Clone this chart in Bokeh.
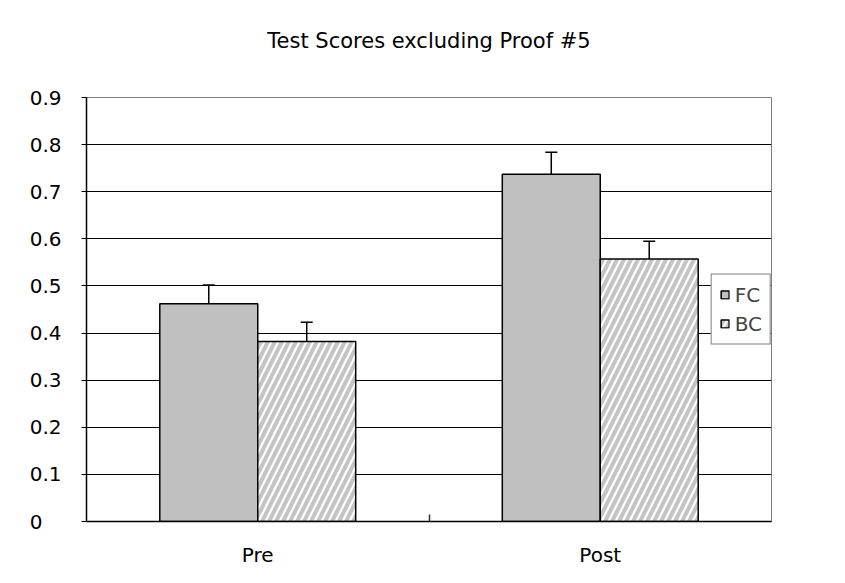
from bokeh.plotting import figure
from bokeh.models import (Range1d, FixedTicker, Whisker, ColumnDataSource, Legend,
                          LegendItem, TeeHead, Title)
from bokeh.transform import dodge
from bokeh.embed import file_html
from bokeh.resources import INLINE

# ---- data ----
categories = ["Pre", "Post"]
series_names = ["FC", "BC"]
fc_values = [0.462, 0.737]
fc_errors = [0.040, 0.047]
bc_values = [0.382, 0.557]
bc_errors = [0.041, 0.038]
y_ticks = [0.0, 0.1, 0.2, 0.3, 0.4, 0.5, 0.6, 0.7, 0.8, 0.9]
y_tick_labels = ["0", "0.1", "0.2", "0.3", "0.4", "0.5", "0.6", "0.7", "0.8", "0.9"]
title_text = "Test Scores excluding Proof #5"

FONT = "DejaVu Sans"
FS = "20px"
BAR_W = 0.286
OFF = BAR_W / 2

W, H = 845, 583
ML, MR, MT, MB = 86, 74, 97, 62
Y_MAX = 0.9

# category slots: each category occupies one unit on the x scale
centers = [i + 0.5 for i in range(len(categories))]
boundaries = list(range(1, len(categories)))
X_MAX = len(categories)

src = ColumnDataSource(dict(
    xc=centers,
    fc=fc_values,
    fc_up=[v + e for v, e in zip(fc_values, fc_errors)],
    bc=bc_values,
    bc_up=[v + e for v, e in zip(bc_values, bc_errors)],
))

p = figure(x_range=Range1d(0, X_MAX), y_range=Range1d(0, Y_MAX),
           width=W, height=H, output_backend="svg", toolbar_location=None,
           min_border_left=ML, min_border_right=MR, min_border_top=MT, min_border_bottom=MB,
           title=title_text)

# blank spacer between the plot area and the title
p.add_layout(Title(text=" ", standoff=17, text_font=FONT, text_font_size=FS,
                   text_color="white"), "above")

p.title.align = "center"
p.title.vertical_align = "top"
p.title.standoff = 0
p.title.text_font = FONT
p.title.text_font_size = "21px"
p.title.text_font_style = "normal"
p.title.text_color = "black"

p.outline_line_color = "#808080"
p.outline_line_width = 1
p.background_fill_color = "white"
p.border_fill_color = "white"

# grid
p.xgrid.visible = False
p.ygrid.ticker = FixedTicker(ticks=y_ticks)
p.ygrid.grid_line_color = "black"
p.ygrid.grid_line_width = 1

# bars
r_fc = p.vbar(x=dodge("xc", -OFF), top="fc", width=BAR_W, source=src,
              fill_color="#c0c0c0", line_color="black", line_width=1.5)
r_bc = p.vbar(x=dodge("xc", OFF), top="bc", width=BAR_W, source=src,
              fill_color="white", hatch_pattern="/", hatch_color="#c4c4c4",
              hatch_scale=14, hatch_weight=4, line_color="black", line_width=1.5)

for base_off, lo, hi in [(-OFF, "fc", "fc_up"), (OFF, "bc", "bc_up")]:
    w = Whisker(source=src, base=dodge("xc", base_off), lower=lo, upper=hi,
                dimension="height", line_color="black", line_width=1.5,
                upper_head=TeeHead(size=12, line_color="black", line_width=1.5),
                lower_head=None, level="annotation")
    p.add_layout(w)

# y axis: labels padded with digit/punctuation-width spaces so they line up on the left
longest = max(len(s) for s in y_tick_labels)
def pad(s):
    return s + ("\u2008\u2007" if len(s) < longest else "")

ya = p.yaxis[0]
ya.ticker = FixedTicker(ticks=y_ticks)
ya.major_label_overrides = {t: pad(l) for t, l in zip(y_ticks, y_tick_labels)}
ya.major_label_text_font = FONT
ya.major_label_text_font_size = FS
ya.major_label_text_color = "black"
ya.major_label_standoff = 20
ya.major_tick_in = 0
ya.major_tick_out = 5
ya.minor_tick_line_color = None
ya.axis_line_color = "black"
ya.axis_line_width = 1.5

# x axis: labels at category centres, small inward ticks at category boundaries
xa = p.xaxis[0]
xa.ticker = FixedTicker(ticks=centers, minor_ticks=boundaries)
xa.major_label_overrides = {c: n for c, n in zip(centers, categories)}
xa.major_tick_line_color = None
xa.minor_tick_in = 7
xa.minor_tick_out = 0
xa.minor_tick_line_color = "#333333"
xa.minor_tick_line_width = 1.5
xa.axis_line_color = "black"
xa.axis_line_width = 1.5
xa.major_label_text_font = FONT
xa.major_label_text_font_size = FS
xa.major_label_text_color = "black"
xa.major_label_standoff = 15

# legend at the right edge of the plot area, vertically centred
legend = Legend(items=[LegendItem(label=series_names[0], renderers=[r_fc]),
                       LegendItem(label=series_names[1], renderers=[r_bc])],
                location="center_right", label_text_font=FONT, label_text_font_size=FS,
                glyph_width=10, glyph_height=10, label_height=22, spacing=5,
                padding=8, margin=0, label_standoff=5,
                border_line_color="black", border_line_width=1,
                background_fill_color="white", background_fill_alpha=1)
p.add_layout(legend, "center")

open("out.html", "w").write(file_html(p, INLINE))
